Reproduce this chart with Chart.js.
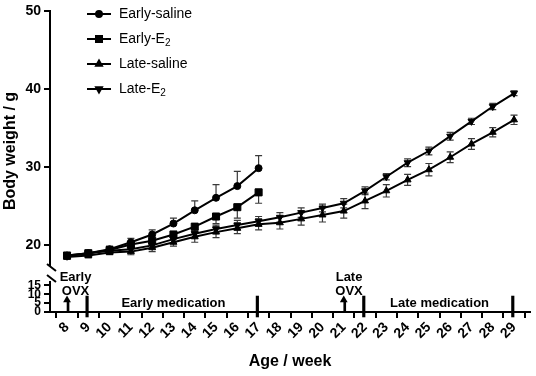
<!DOCTYPE html>
<html>
<head>
<meta charset="utf-8">
<script src="https://cdn.jsdelivr.net/npm/chart.js@4.4.0/dist/chart.umd.min.js"></script>
<style>
  html, body { margin: 0; padding: 0; background: #fff; }
</style>
</head>
<body>
<canvas id="bodyweight" width="536" height="376"></canvas>
<script>
// ages in weeks
const weeks = [8, 9, 10, 11, 12, 13, 14, 15, 16, 17, 18, 19, 20, 21, 22, 23, 24, 25, 26, 27, 28, 29];
const earlyWeeks = [8, 9, 10, 11, 12, 13, 14, 15, 16, 17];

// mean body weight (g) and SD
const earlySaline = [18.7, 19.0, 19.5, 20.4, 21.4, 22.8, 24.5, 26.1, 27.6, 29.9];
const earlySalineSd = [0.3, 0.3, 0.4, 0.5, 0.6, 0.7, 1.2, 1.7, 1.9, 1.6];
const earlyE2 = [18.7, 19.0, 19.4, 20.1, 20.6, 21.4, 22.4, 23.7, 24.9, 26.8];
const earlyE2Sd = [0.3, 0.3, 0.4, 0.4, 0.5, 0.6, 0.7, 0.9, 1.4, 1.4];
const lateSaline = [18.5, 18.7, 19.1, 19.2, 19.7, 20.4, 21.1, 21.7, 22.2, 22.7, 22.9, 23.4, 23.9, 24.4, 25.7, 27.0, 28.4, 29.7, 31.3, 33.0, 34.5, 36.1];
const lateSalineSd = [0.3, 0.3, 0.3, 0.4, 0.5, 0.5, 0.7, 0.7, 0.7, 0.7, 0.8, 0.8, 0.9, 0.9, 1.0, 0.8, 0.7, 0.8, 0.7, 0.7, 0.6, 0.6];
const lateE2 = [18.6, 19.0, 19.3, 19.5, 20.0, 20.8, 21.5, 22.1, 22.6, 23.1, 23.6, 24.2, 24.8, 25.4, 27.0, 28.8, 30.6, 32.1, 34.0, 35.9, 37.8, 39.5];
const lateE2Sd = [0.3, 0.3, 0.3, 0.4, 0.4, 0.5, 0.5, 0.5, 0.6, 0.6, 0.6, 0.6, 0.5, 0.6, 0.5, 0.4, 0.5, 0.5, 0.5, 0.4, 0.4, 0.3];

// axis ticks
const upperTicks = [20, 30, 40, 50];
const lowerTicks = [0, 5, 10, 15];

// timeline under the curves
const periodMarks = [9, 17, 22, 29];
const periodMarkRange = [-2.8, 9];
const ovxWeeks = [8, 21];
const ovxStemHeight = 6;
const ovxHeadLevel = 6.8;
const periodLabels = ['Early medication', 'Late medication'];
const periodLabelAt = [13, 25.5];
const ovxLabels = [['Early', 'OVX'], ['Late', 'OVX']];
const ovxLabelAt = [8.4, 21.25];

const FONT = "'Liberation Sans', Arial, sans-serif";

function pts(xs, ys) { return xs.map((x, i) => ({ x: x, y: ys[i] })); }

const series = [
  { label: 'Early-saline', sub: '', x: earlyWeeks, y: earlySaline, sd: earlySalineSd, dir: 1, style: 'circle', radius: 3.5, rot: 0 },
  { label: 'Early-E', sub: '2', x: earlyWeeks, y: earlyE2, sd: earlyE2Sd, dir: -1, style: 'rect', radius: 5, rot: 0 },
  { label: 'Late-saline', sub: '', x: weeks, y: lateSaline, sd: lateSalineSd, dir: 0, style: 'triangle', radius: 4, rot: 0 },
  { label: 'Late-E', sub: '2', x: weeks, y: lateE2, sd: lateE2Sd, dir: 0, style: 'triangle', radius: 4, rot: 180 },
];

const lineSets = series.map(s => ({
  type: 'line',
  label: s.label + s.sub,
  data: pts(s.x, s.y),
  yAxisID: 'y',
  borderColor: '#000',
  backgroundColor: '#000',
  borderWidth: 2,
  pointStyle: s.style,
  pointRadius: s.radius,
  pointRotation: s.rot,
  pointBorderWidth: 1,
  tension: 0,
}));

// error bars, drawn through the chart scales
const errorBars = {
  id: 'errorBars',
  beforeDatasetsDraw(chart) {
    const ctx = chart.ctx;
    const ys = chart.scales.y;
    ctx.save();
    ctx.strokeStyle = '#3a3a3a';
    ctx.lineWidth = 1.2;
    series.forEach((s, i) => {
      const meta = chart.getDatasetMeta(i);
      meta.data.forEach((p, j) => {
        const v = s.y[j], e = s.sd[j];
        const top = ys.getPixelForValue(v + e), bot = ys.getPixelForValue(v - e);
        const ends = s.dir > 0 ? [top] : s.dir < 0 ? [bot] : [top, bot];
        ctx.beginPath();
        ctx.moveTo(p.x, s.dir < 0 ? p.y : top);
        ctx.lineTo(p.x, s.dir > 0 ? p.y : bot);
        ends.forEach(yy => { ctx.moveTo(p.x - 3.5, yy); ctx.lineTo(p.x + 3.5, yy); });
        ctx.stroke();
      });
    });
    ctx.restore();
  }
};

// legend, axis break, texts
const decorations = {
  id: 'decorations',
  afterDraw(chart) {
    const ctx = chart.ctx;
    const xs = chart.scales.x, y2 = chart.scales.y2;
    ctx.save();
    ctx.fillStyle = '#000';
    ctx.strokeStyle = '#000';

    // legend
    const rows = [14, 39, 64, 89];
    series.forEach((s, i) => {
      const yy = rows[i];
      ctx.lineWidth = 2;
      ctx.beginPath(); ctx.moveTo(87, yy); ctx.lineTo(111, yy); ctx.stroke();
      Chart.helpers.drawPoint(ctx, { pointStyle: s.style, radius: s.radius * 0.85, rotation: s.rot, borderWidth: 1 }, 99, yy);
      ctx.fill();
      ctx.font = '14px ' + FONT;
      ctx.textBaseline = 'middle';
      ctx.textAlign = 'left';
      ctx.fillText(s.label, 119, yy);
      if (s.sub) {
        const w = ctx.measureText(s.label).width;
        ctx.font = '10px ' + FONT;
        ctx.fillText(s.sub, 119 + w, yy + 4);
      }
    });

    // axis break
    const ax = chart.scales.y.right;
    ctx.fillStyle = '#fff';
    ctx.fillRect(ax - 3, 266, 6, 15);
    ctx.strokeStyle = '#000';
    ctx.lineWidth = 2;
    ctx.beginPath();
    ctx.moveTo(ax - 3, 264); ctx.lineTo(ax + 6, 271);
    ctx.moveTo(ax - 3, 275); ctx.lineTo(ax + 6, 282);
    ctx.stroke();

    // timeline labels
    ctx.fillStyle = '#000';
    ctx.font = 'bold 13px ' + FONT;
    ctx.textAlign = 'center';
    ctx.textBaseline = 'middle';
    periodLabels.forEach((t, i) => {
      ctx.fillText(t, xs.getPixelForValue(periodLabelAt[i]), y2.getPixelForValue(4.6));
    });
    ovxLabels.forEach((lines, i) => {
      const cx = xs.getPixelForValue(ovxLabelAt[i]);
      ctx.fillText(lines[0], cx, 277);
      ctx.fillText(lines[1], cx, 291);
    });

    // axis titles
    ctx.font = 'bold 16px ' + FONT;
    ctx.fillText('Age / week', (chart.chartArea.left + chart.chartArea.right) / 2, 362);
    ctx.translate(11, 151);
    ctx.rotate(-Math.PI / 2);
    ctx.fillText('Body weight / g', 0, 0);
    ctx.restore();
  }
};

const tickFont = { family: FONT, size: 14, weight: 'bold' };

new Chart('bodyweight', {
  type: 'line',
  data: {
    datasets: lineSets.concat([
      {
        type: 'bar',
        label: 'periods',
        data: periodMarks.map(w => ({ x: w, y: periodMarkRange })),
        yAxisID: 'y2',
        backgroundColor: '#000',
        barThickness: 2.5,
        clip: false,
      },
      {
        type: 'bar',
        label: 'ovx stems',
        data: ovxWeeks.map(w => ({ x: w, y: ovxStemHeight })),
        yAxisID: 'y2',
        backgroundColor: '#000',
        barThickness: 2,
      },
      {
        type: 'line',
        label: 'ovx heads',
        data: ovxWeeks.map(w => ({ x: w, y: ovxHeadLevel })),
        yAxisID: 'y2',
        showLine: false,
        pointStyle: 'triangle',
        pointRadius: 4.5,
        backgroundColor: '#000',
        borderColor: '#000',
        pointBorderWidth: 0,
      },
    ])
  },
  options: {
    responsive: false,
    animation: false,
    devicePixelRatio: 1,
    layout: { padding: { top: 6, right: 4, left: 0, bottom: 0 } },
    plugins: { legend: { display: false }, tooltip: { enabled: false } },
    scales: {
      x: {
        type: 'linear',
        min: 7.2,
        max: 29.75,
        offset: false,
        afterBuildTicks: s => { s.ticks = weeks.map(v => ({ value: v })); },
        afterFit: s => { s.height = 64; },
        ticks: { autoSkip: false, minRotation: 45, maxRotation: 45, color: '#000', font: tickFont, padding: 1 },
        grid: { drawOnChartArea: false, color: '#000', lineWidth: 2, tickLength: 6 },
        border: { color: '#000', width: 2 },
      },
      y: {
        type: 'linear',
        position: 'left',
        stack: 'left',
        stackWeight: 262,
        weight: 1,
        min: 17,
        max: 50,
        afterBuildTicks: s => { s.ticks = upperTicks.map(v => ({ value: v })); },
        afterFit: s => { s.width = 50; },
        ticks: { color: '#000', font: tickFont, padding: 3 },
        grid: { drawOnChartArea: false, color: '#000', lineWidth: 2, tickLength: 6 },
        border: { color: '#000', width: 2 },
      },
      y2: {
        type: 'linear',
        position: 'left',
        stack: 'left',
        stackWeight: 44,
        weight: 0,
        min: 0,
        max: 24.4,
        afterBuildTicks: s => { s.ticks = lowerTicks.map(v => ({ value: v })); },
        afterFit: s => { s.width = 50; },
        ticks: { autoSkip: false, color: '#000', font: { family: FONT, size: 12, weight: 'bold' }, padding: 3 },
        grid: { drawOnChartArea: false, color: '#000', lineWidth: 2, tickLength: 6 },
        border: { color: '#000', width: 2 },
      },
    }
  },
  plugins: [errorBars, decorations]
});
</script>
</body>
</html>
